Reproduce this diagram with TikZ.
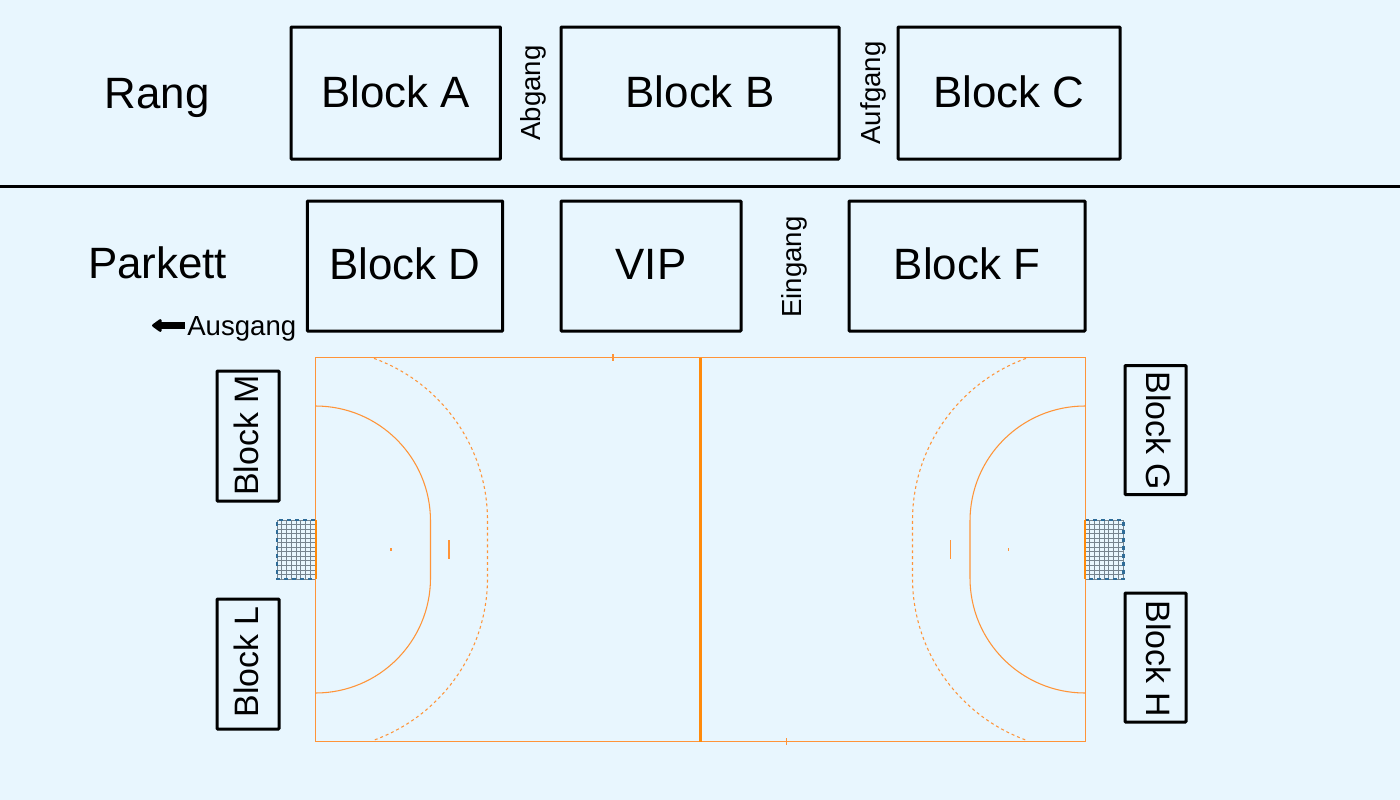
\documentclass[tikz,border=0pt]{standalone}
\usepackage{fontspec}
\setmainfont{Liberation Sans}
\usetikzlibrary{arrows.meta}
\definecolor{bgc}{HTML}{E8F6FE}
\definecolor{courtc}{HTML}{FF9438}
\definecolor{midc}{HTML}{FF8A0A}
\definecolor{netc}{HTML}{2F6C98}
\definecolor{gridc}{HTML}{76848F}
\newcommand\nudge[3]{\raisebox{#2}[\height][\depth]{\kern#1 #3\kern-#1 }}
\tikzset{
  x=0.75pt,y=-0.75pt,
  bigtxt/.style={font=\fontsize{32.9}{36}\selectfont},
  midtxt/.style={font=\fontsize{25.4}{30}\selectfont},
  smalltxt/.style={font=\fontsize{20.7}{24}\selectfont},
  seat/.style={draw=black,line width=2.25pt,rounded corners=0.5pt,inner sep=0pt,bigtxt},
  sideseat/.style={seat,midtxt},
  court/.style={draw=courtc,line width=0.8pt},
  courtedge/.style={draw=courtc,line width=0.7pt},
  dashline/.style={court,dash pattern=on 2.2pt off 2.2pt},
  netgrid/.style={draw=gridc,line width=0.6pt},
  netframe/.style={draw=netc,line width=1.7pt,dash pattern=on 3pt off 3pt},
}
\begin{document}
\begin{tikzpicture}
\fill[bgc] (0,0) rectangle (1400,800);
\useasboundingbox (0,0) rectangle (1400,800);
% rows
\draw[line width=2.25pt] (0,186) coordinate (sepL) -- (1400,186) coordinate (sepR);
\node[bigtxt] (rang) at (157,98) {Rang};
\node[bigtxt] (parkett) at (157.5,263) {Parkett};
\node[seat,minimum width=157pt,minimum height=99pt] (A) at (395.75,93) {\nudge{0pt}{0.75pt}{Block A}};
\node[seat,minimum width=208.5pt,minimum height=99pt] (B) at (700,93) {\nudge{0pt}{0.75pt}{Block B}};
\node[seat,minimum width=166.5pt,minimum height=99pt] (C) at (1009,93) {\nudge{0pt}{0.75pt}{Block C}};
\node[seat,minimum width=146.5pt,minimum height=97.5pt] (D) at (405,266) {\nudge{0pt}{1.5pt}{Block D}};
\node[seat,minimum width=135pt,minimum height=97.5pt] (VIP) at (651,266) {\nudge{0pt}{1.5pt}{VIP}};
\node[seat,minimum width=177pt,minimum height=97.5pt] (F) at (967,266) {\nudge{0pt}{1.5pt}{Block F}};
\node[smalltxt,rotate=90] (abgang) at (533,93) {Abgang};
\node[smalltxt,rotate=90] (aufgang) at (873,93) {Aufgang};
\node[smalltxt,rotate=90] (eingang) at (794,267) {Eingang};
\node[smalltxt,anchor=west,inner sep=0pt] (ausgang) at (187,328.5) {Ausgang};
\coordinate (arrowtail) at (185,325.5);
\coordinate (arrowend) at (152,325.5);
\draw[line width=5pt,-{Stealth[length=8pt,width=11pt,inset=0pt,round]}] (arrowtail) -- (arrowend);
% side blocks
\node[sideseat,rotate=90,minimum width=97.5pt,minimum height=46.5pt] (M) at (248,436) {\nudge{0.4pt}{1.1pt}{Block M}};
\node[sideseat,rotate=90,minimum width=97.5pt,minimum height=46.5pt] (L) at (248,664) {\nudge{1.5pt}{1.1pt}{Block L}};
\node[sideseat,rotate=-90,minimum width=96.75pt,minimum height=45.75pt] (G) at (1155.5,430) {\nudge{0.6pt}{2.25pt}{Block G}};
\node[sideseat,rotate=-90,minimum width=96.75pt,minimum height=45.75pt] (H) at (1155.5,657.5) {\nudge{1.1pt}{2.25pt}{Block H}};
% nets
\foreach \xa/\xb in {277/315,1085/1123}{
  \foreach \i in {0,...,8}{\draw[netgrid] ({\xa+\i*(\xb-\xa)/8},520) -- ({\xa+\i*(\xb-\xa)/8},579);}
  \foreach \j in {0,...,13}{\draw[netgrid] (\xa,{520+\j*59/13}) -- (\xb,{520+\j*59/13});}
}
\draw[netframe] (315,520) -- (277,520) -- (277,579) -- (315,579);
\draw[netframe] (1085,520) -- (1123.5,520) -- (1123.5,579) -- (1085,579);
% court
\draw[courtedge] (315.3,357.3) -- (1085.3,357.3) -- (1085.3,741.3) -- (315.3,741.3) -- cycle;
\draw[draw=midc,line width=1.5pt] (315.5,520) -- (315.5,579);
\draw[draw=midc,line width=1.5pt] (1085,520) -- (1085,579);
\draw[draw=midc,line width=2.25pt] (700,357.5) -- (700,741.5);
\draw[court] (613,354) -- (613,361);
\draw[court] (786.5,738) -- (786.5,745);
% left area
\draw[court] (315.5,406) arc[start angle=-90,end angle=0,radius=115] -- (430.5,578) arc[start angle=0,end angle=90,radius=115];
\draw[dashline] (374,358.4) arc[start angle=-70,end angle=0,radius=172.5] -- (487.5,578) arc[start angle=0,end angle=70,radius=172.5];
\draw[court] (449,540) -- (449,559);
\draw[court] (391,548) -- (391,551);
% right area
\draw[court] (1085,406) arc[start angle=-90,end angle=-180,radius=115] -- (970,578) arc[start angle=180,end angle=90,radius=115];
\draw[dashline] (1026,358.4) arc[start angle=-110,end angle=-180,radius=172.5] -- (912.5,578) arc[start angle=180,end angle=110,radius=172.5];
\draw[court] (950.5,540) -- (950.5,559);
\draw[court] (1008.5,548) -- (1008.5,551);
\end{tikzpicture}
\end{document}
